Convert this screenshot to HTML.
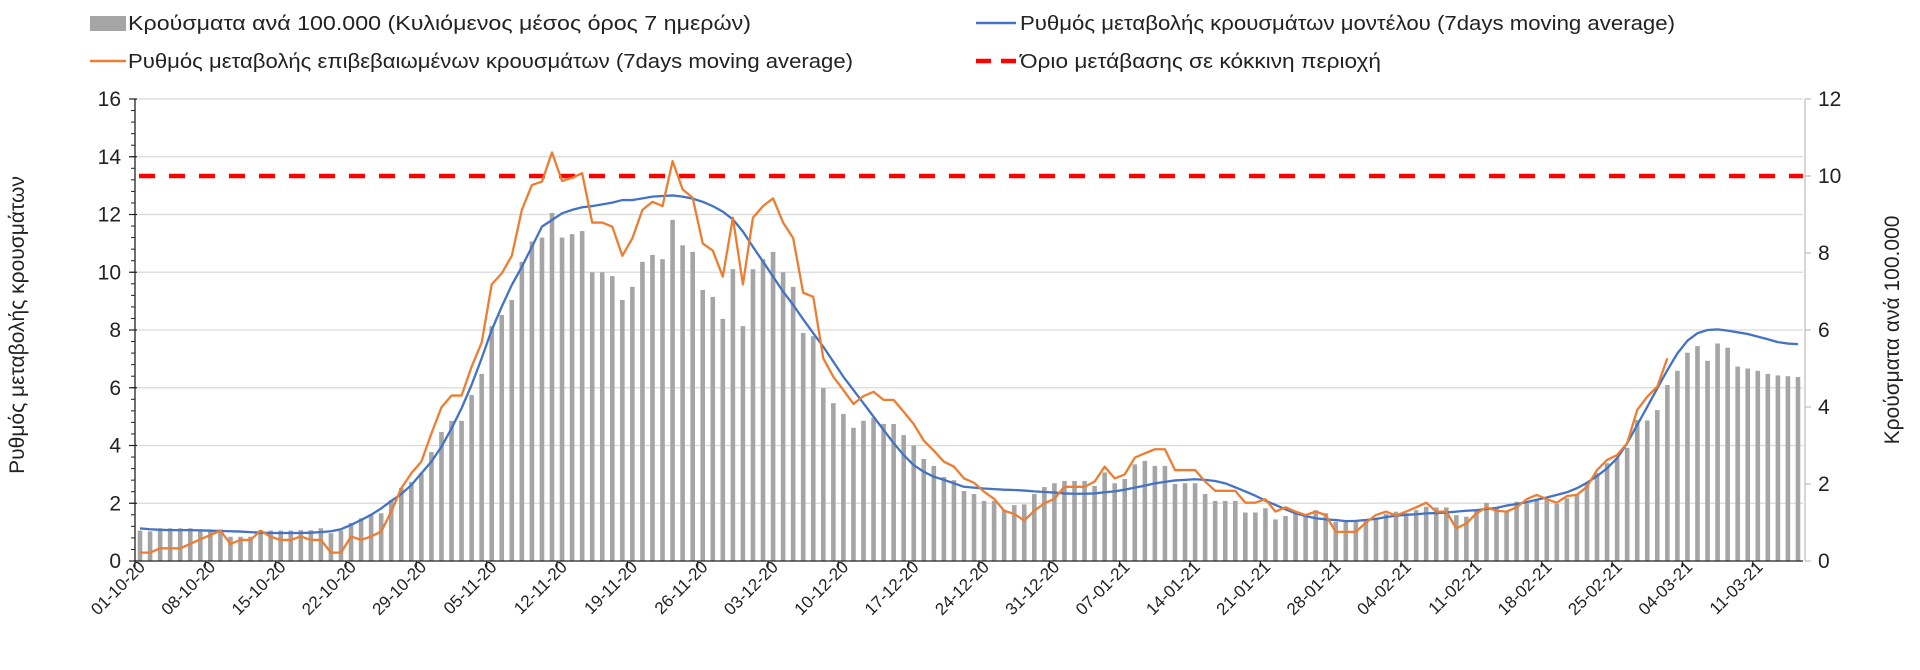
<!DOCTYPE html>
<html><head><meta charset="utf-8">
<style>
html,body{margin:0;padding:0;background:#fff;}
svg{display:block;font-family:"Liberation Sans",sans-serif;}
</style></head>
<body>
<svg id="chart" width="1920" height="670" viewBox="0 0 1920 670" xmlns="http://www.w3.org/2000/svg">
  <rect x="0" y="0" width="1920" height="670" fill="#fff"/>
  <g id="grid"></g>
  <g id="bars"></g>
  <g id="lines"></g>
  <g id="axes"></g>
  <g id="legend">
    <g>
      <rect x="90" y="16" width="36" height="15" fill="#a5a5a5"/>
      <text x="128" y="30" font-size="20" fill="#222" textLength="623" lengthAdjust="spacingAndGlyphs">Κρούσματα ανά 100.000 (Κυλιόμενος μέσος όρος 7 ημερών)</text>
    </g>
    <g>
      <line x1="90" y1="61" x2="126" y2="61" stroke="#ed7d31" stroke-width="2.5"/>
      <text x="128" y="68" font-size="20" fill="#222" textLength="725" lengthAdjust="spacingAndGlyphs">Ρυθμός μεταβολής επιβεβαιωμένων κρουσμάτων (7days moving average)</text>
    </g>
    <g>
      <line x1="976" y1="23" x2="1016" y2="23" stroke="#4472c4" stroke-width="2.5"/>
      <text x="1020" y="30" font-size="20" fill="#222" textLength="655" lengthAdjust="spacingAndGlyphs">Ρυθμός μεταβολής κρουσμάτων μοντέλου (7days moving average)</text>
    </g>
    <g>
      <line x1="976" y1="61" x2="1016" y2="61" stroke="#ff0000" stroke-width="4.5" stroke-dasharray="15,10"/>
      <text x="1020" y="68" font-size="20" fill="#222" textLength="361" lengthAdjust="spacingAndGlyphs">Όριο μετάβασης σε κόκκινη περιοχή</text>
    </g>
  </g>
  <text x="0" y="0" font-size="21" fill="#222" text-anchor="middle" transform="translate(24,325) rotate(-90)">Ρυθμός μεταβολής κρουσμάτων</text>
  <text x="0" y="0" font-size="21" fill="#222" text-anchor="middle" transform="translate(1899,330) rotate(-90)">Κρούσματα ανά 100.000</text>
</svg>
<script>
const tickLabels = ['01-10-20','08-10-20','15-10-20','22-10-20','29-10-20','05-11-20','12-11-20','19-11-20','26-11-20','03-12-20','10-12-20','17-12-20','24-12-20','31-12-20','07-01-21','14-01-21','21-01-21','28-01-21','04-02-21','11-02-21','18-02-21','25-02-21','04-03-21','11-03-21'];
const leftTicks = [0,2,4,6,8,10,12,14,16];
const rightTicks = [0,2,4,6,8,10,12];
const threshold = 10;
const bars = [0.79,0.77,0.85,0.85,0.85,0.85,0.82,0.82,0.82,0.63,
0.63,0.63,0.8,0.79,0.79,0.79,0.8,0.8,0.85,0.72,
0.79,0.99,1.11,1.22,1.24,1.58,1.9,2.05,2.28,2.83,
3.35,3.64,3.64,4.31,4.86,6.1,6.39,6.78,7.77,8.3,
8.4,9.04,8.4,8.49,8.57,7.5,7.5,7.4,6.78,7.12,
7.77,7.95,7.84,8.86,8.2,8.03,7.04,6.86,6.29,7.58,
6.1,7.58,7.84,8.03,7.5,7.12,5.92,5.84,4.49,4.1,
3.82,3.46,3.64,3.72,3.56,3.56,3.27,3.0,2.65,2.47,
2.18,2.1,1.82,1.74,1.56,1.56,1.32,1.45,1.47,1.74,
1.92,2.02,2.08,2.08,2.08,1.95,2.3,2.02,2.13,2.51,
2.6,2.47,2.47,2.0,2.02,2.02,1.74,1.56,1.56,1.56,
1.26,1.26,1.37,1.08,1.17,1.24,1.19,1.32,1.24,1.02,
1.02,1.02,1.06,1.11,1.22,1.28,1.24,1.32,1.41,1.39,
1.39,1.19,1.15,1.32,1.51,1.37,1.31,1.54,1.5,1.58,
1.6,1.48,1.63,1.71,2.0,2.28,2.54,2.67,2.94,3.66,
3.65,3.92,4.57,4.94,5.41,5.58,5.2,5.65,5.54,5.05,
5.0,4.94,4.86,4.82,4.8,4.78];
const confirmedRate = [0.29,0.29,0.44,0.44,0.44,0.59,0.75,0.9,1.05,0.59,
0.73,0.73,1.05,0.84,0.73,0.73,0.85,0.73,0.73,0.29,
0.29,0.85,0.73,0.85,1.02,1.71,2.52,3.04,3.44,4.42,
5.32,5.73,5.73,6.73,7.56,9.58,9.96,10.57,12.16,13.02,
13.14,14.15,13.16,13.27,13.43,11.72,11.72,11.58,10.57,11.18,
12.16,12.44,12.29,13.85,12.87,12.58,11.0,10.75,9.85,11.89,
9.58,11.89,12.29,12.56,11.72,11.18,9.29,9.15,7.02,6.38,
5.92,5.44,5.71,5.86,5.58,5.58,5.17,4.74,4.17,3.82,
3.44,3.27,2.86,2.71,2.4,2.15,1.74,1.63,1.4,1.74,
2.0,2.15,2.57,2.57,2.57,2.75,3.27,2.86,3.0,3.58,
3.73,3.87,3.87,3.15,3.15,3.15,2.75,2.43,2.43,2.43,
2.02,2.02,2.14,1.71,1.86,1.71,1.59,1.71,1.59,1.01,
1.01,1.01,1.33,1.59,1.71,1.57,1.71,1.86,2.02,1.71,
1.71,1.13,1.3,1.65,1.86,1.74,1.71,1.86,2.14,2.29,
2.14,2.02,2.25,2.29,2.57,3.15,3.5,3.67,4.08,5.23,
5.69,6.04,7.02];
const modelRate = [1.13,1.1,1.08,1.07,1.07,1.07,1.06,1.05,1.04,1.03,
1.02,1.0,0.98,0.97,0.97,0.97,0.97,0.98,1.0,1.03,
1.1,1.25,1.42,1.6,1.82,2.08,2.32,2.63,3.04,3.44,
3.96,4.59,5.29,6.1,7.02,8.0,8.81,9.56,10.19,10.88,
11.58,11.81,12.04,12.16,12.25,12.29,12.35,12.41,12.5,12.5,
12.56,12.62,12.64,12.66,12.62,12.55,12.44,12.29,12.1,11.83,
11.41,10.88,10.37,9.85,9.33,8.87,8.37,7.89,7.42,6.9,
6.38,5.92,5.46,5.0,4.54,4.08,3.67,3.32,3.09,2.92,
2.81,2.69,2.57,2.54,2.51,2.49,2.47,2.46,2.44,2.41,
2.39,2.37,2.34,2.33,2.33,2.34,2.38,2.41,2.47,2.54,
2.61,2.69,2.74,2.79,2.81,2.83,2.81,2.77,2.69,2.55,
2.41,2.26,2.09,1.94,1.79,1.65,1.56,1.48,1.44,1.42,
1.38,1.39,1.42,1.46,1.52,1.57,1.6,1.62,1.65,1.66,
1.68,1.71,1.74,1.76,1.8,1.84,1.92,1.97,2.04,2.12,
2.2,2.29,2.38,2.52,2.71,2.94,3.21,3.56,4.08,4.71,
5.34,5.98,6.61,7.19,7.63,7.89,8.0,8.02,7.98,7.92,
7.86,7.77,7.68,7.58,7.53,7.51];

const NS = 'http://www.w3.org/2000/svg';
const X0 = 135, X1 = 1803, YB = 561, YT = 99;
const nCat = bars.length;
const step = (X1 - X0) / nCat;
function xc(i){ return X0 + step * (i + 0.5); }
function yL(v){ return YB - (v / 16) * (YB - YT); }
function yR(v){ return YB - (v / 12) * (YB - YT); }
function mk(tag, attrs, parent){
  const e = document.createElementNS(NS, tag);
  for (const k in attrs) e.setAttribute(k, attrs[k]);
  parent.appendChild(e);
  return e;
}
const grid = document.getElementById('grid');
const axes = document.getElementById('axes');
const barsG = document.getElementById('bars');
const linesG = document.getElementById('lines');

leftTicks.forEach(v => {
  if (v > 0) {
    const g = mk('line', {x1: X0, x2: X1, y1: yL(v), y2: yL(v), stroke: '#d9d9d9', 'stroke-width': 1.3}, grid);
    
    
  }
  const t = mk('line', {x1: X0 - 6, x2: X0 + 2, y1: yL(v), y2: yL(v), stroke: '#222', 'stroke-width': 1.2}, axes);
  
  
  const lb = mk('text', {x: X0 - 14, y: yL(v) + 7, 'font-size': 21, 'text-anchor': 'end', fill: '#222'}, axes);
  lb.textContent = v;
  
  
});
for (let v = 0; v < 16; v += 0.4) {
  const m = mk('line', {x1: X0 - 4, x2: X0, y1: yL(v), y2: yL(v), stroke: '#222', 'stroke-width': 1}, axes);
  
  
}
const la = mk('line', {x1: X0, x2: X0, y1: YT, y2: YB, stroke: '#222', 'stroke-width': 1.3}, axes);


const ra = mk('line', {x1: X1 + 2, x2: X1 + 2, y1: YT, y2: YB, stroke: '#bfbfbf', 'stroke-width': 1.3}, axes);


rightTicks.forEach(v => {
  const t = mk('line', {x1: X1 + 2, x2: X1 + 8, y1: yR(v), y2: yR(v), stroke: '#bfbfbf', 'stroke-width': 1.2}, axes);
  
  
  const lb = mk('text', {x: X1 + 15, y: yR(v) + 7, 'font-size': 21, fill: '#222'}, axes);
  lb.textContent = v;
  
  
});
const xa = mk('line', {x1: X0, x2: X1, y1: YB, y2: YB, stroke: '#222', 'stroke-width': 1.3}, axes);


tickLabels.forEach((lab, k) => {
  const i = k * 7;
  const bx = X0 + step * i;
  const t = mk('line', {x1: bx, x2: bx, y1: YB, y2: YB + 6, stroke: '#222', 'stroke-width': 1.2}, axes);
  
  
  const tx = xc(i) + 6, ty = YB + 7;
  const lb = mk('text', {x: tx, y: ty, 'font-size': 17, 'text-anchor': 'end', fill: '#222', transform: 'rotate(-45 ' + tx + ' ' + ty + ')'}, axes);
  lb.textContent = lab;
  
  
});

bars.forEach((v, i) => {
  const w = 4.6;
  const r = mk('rect', {x: xc(i) - w / 2, y: yR(v), width: w, height: YB - yR(v), fill: '#a5a5a5'}, barsG);
  
  
});

const thr = mk('line', {x1: X0 + 4, x2: X1, y1: yR(threshold), y2: yR(threshold), stroke: '#ff0000', 'stroke-width': 4.5, 'stroke-dasharray': '16,14'}, linesG);



function path(arr){ return arr.map((v, i) => (i ? 'L' : 'M') + xc(i).toFixed(2) + ',' + yL(v).toFixed(2)).join(''); }
const pb = mk('path', {d: path(modelRate), fill: 'none', stroke: '#4472c4', 'stroke-width': 2.3, 'stroke-linejoin': 'round'}, linesG);


const po = mk('path', {d: path(confirmedRate), fill: 'none', stroke: '#ed7d31', 'stroke-width': 2.3, 'stroke-linejoin': 'round'}, linesG);


</script>
</body></html>
